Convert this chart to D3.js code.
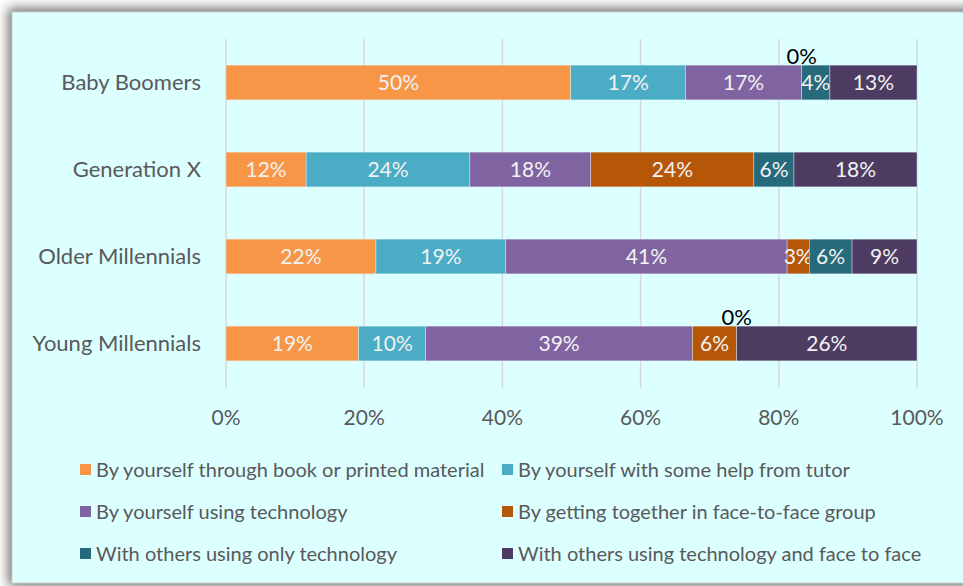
<!DOCTYPE html>
<html>
<head>
<meta charset="utf-8">
<script src="https://cdn.jsdelivr.net/npm/d3@7"></script>
<style>
  body { margin: 0; background: #ffffff; }
  text { font-family: Lato, "Open Sans", sans-serif; }
</style>
</head>
<body>
<div id="chart"></div>
<script>
// categories, top to bottom
const categories = ["Baby Boomers", "Generation X", "Older Millennials", "Young Millennials"];

// series names (legend order)
const seriesNames = [
  "By yourself through book or printed material",
  "By yourself with some help from tutor",
  "By yourself using technology",
  "By getting together in face-to-face group",
  "With others using only technology",
  "With others using technology and face to face"
];

// percent values per series, one entry per category
const bookValues      = [49.9, 11.6, 21.7, 19.2];
const tutorValues     = [16.6, 23.7, 18.8,  9.7];
const techValues      = [16.8, 17.5, 40.7, 38.6];
const groupValues     = [ 0.0, 23.6,  3.2,  6.4];
const othersTechVals  = [ 4.1,  5.8,  6.2,  0.0];
const othersMixedVals = [12.6, 17.8,  9.4, 26.1];

const seriesValues = [bookValues, tutorValues, techValues, groupValues, othersTechVals, othersMixedVals];
const colors = ["#F79646", "#4BACC6", "#8064A2", "#B65708", "#276A7C", "#4D3B62"];

const tickValues = [0, 20, 40, 60, 80, 100];

const width = 963, height = 586;

const svg = d3.select("#chart").append("svg")
  .attr("width", width)
  .attr("height", height);

// frame with shadow
const defs = svg.append("defs");
const f = defs.append("filter").attr("id", "shadow")
  .attr("x", "-10%").attr("y", "-10%").attr("width", "120%").attr("height", "120%");
f.append("feGaussianBlur").attr("stdDeviation", 6);

svg.append("rect")
  .attr("x", 8).attr("y", 8).attr("width", 980).attr("height", 578)
  .attr("fill", "#6f6f6f")
  .attr("filter", "url(#shadow)");

svg.append("rect")
  .attr("x", 12).attr("y", 12).attr("width", 970).attr("height", 571)
  .attr("fill", "#DCFFFF")
  .attr("stroke", "#cfcfcf")
  .attr("stroke-width", 1);

// scales
const x = d3.scaleLinear().domain([0, 100]).range([226, 917]);
const y = d3.scaleBand().domain(categories).range([39, 387])
  .paddingInner(0.6).paddingOuter(0.3);

// gridlines
svg.append("g")
  .selectAll("line")
  .data(tickValues)
  .join("line")
  .attr("x1", d => x(d)).attr("x2", d => x(d))
  .attr("y1", 39).attr("y2", 388)
  .attr("stroke", "#d9d9d9")
  .attr("stroke-width", 1.5);

// x tick labels
svg.append("g")
  .selectAll("text")
  .data(tickValues)
  .join("text")
  .attr("x", d => x(d))
  .attr("y", 425)
  .attr("text-anchor", "middle")
  .attr("font-size", 21)
  .attr("fill", "#595959")
  .text(d => d + "%");

// category labels
svg.append("g")
  .selectAll("text")
  .data(categories)
  .join("text")
  .attr("x", 201)
  .attr("y", d => y(d) + y.bandwidth() / 2 + 7)
  .attr("text-anchor", "end")
  .attr("font-size", 22)
  .attr("fill", "#595959")
  .text(d => d);

// stack the data
const rows = categories.map((c, i) => {
  const r = { cat: c };
  seriesValues.forEach((s, k) => { r["s" + k] = s[i]; });
  return r;
});
const keys = seriesValues.map((s, k) => "s" + k);
const stacked = d3.stack().keys(keys)(rows);

const layers = svg.append("g")
  .selectAll("g")
  .data(stacked)
  .join("g")
  .attr("fill", (d, k) => colors[k]);

layers.selectAll("rect")
  .data(d => d)
  .join("rect")
  .attr("x", d => x(d[0]))
  .attr("y", d => y(d.data.cat))
  .attr("width", d => x(d[1]) - x(d[0]))
  .attr("height", y.bandwidth())
  .attr("stroke", "#e6f4f4")
  .attr("stroke-width", 0.4);

// data labels
layers.selectAll("text")
  .data(d => d)
  .join("text")
  .attr("x", d => (x(d[0]) + x(d[1])) / 2)
  .attr("y", d => {
    const v = d[1] - d[0];
    return v === 0 ? y(d.data.cat) - 1 : y(d.data.cat) + y.bandwidth() / 2 + 7;
  })
  .attr("text-anchor", "middle")
  .attr("font-size", d => (d[1] - d[0]) === 0 ? 22 : 21)
  .attr("fill", d => (d[1] - d[0]) === 0 ? "#000000" : "#F2F2F2")
  .text(d => Math.round(d[1] - d[0]) + "%");

// legend
const legend = svg.append("g")
  .selectAll("g")
  .data(seriesNames)
  .join("g")
  .attr("transform", (d, k) => `translate(${k % 2 === 0 ? 80 : 502}, ${470 + Math.floor(k / 2) * 42})`);

legend.append("rect")
  .attr("x", 0).attr("y", -6)
  .attr("width", 11).attr("height", 11)
  .attr("fill", (d, k) => colors[k]);

legend.append("text")
  .attr("x", 16)
  .attr("y", 7)
  .attr("font-size", 20)
  .attr("fill", "#595959")
  .text(d => d);
</script>
</body>
</html>
